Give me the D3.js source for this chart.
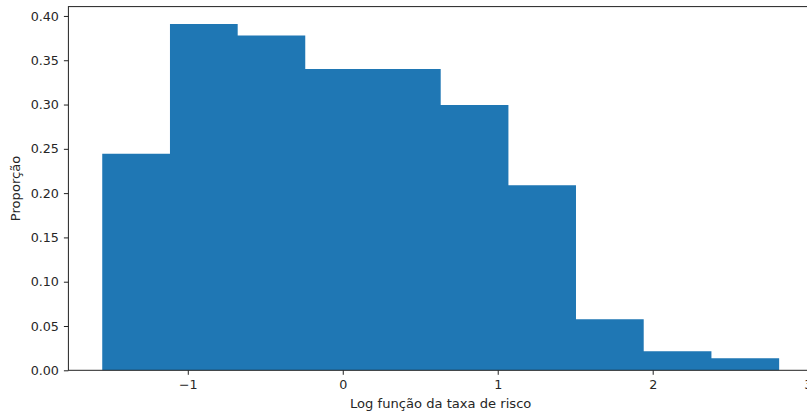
<!DOCTYPE html>
<html>
<head>
<meta charset="utf-8">
<script src="https://cdn.jsdelivr.net/npm/d3@7"></script>
<style>
  html, body { margin: 0; padding: 0; background: #fff; }
  svg { display: block; }
  text { font-family: "DejaVu Sans", sans-serif; fill: #262626; }
</style>
</head>
<body>
<svg id="chart" width="807" height="414"></svg>
<script>
// Histogram bins (log hazard-rate function) and the proportion in each bin
const binEdges = [-1.552, -1.115, -0.678, -0.242, 0.195, 0.632, 1.069, 1.505, 1.942, 2.379, 2.816];
const proportions = [0.2445, 0.391, 0.378, 0.340, 0.340, 0.2995, 0.2089, 0.0576, 0.0215, 0.0135];
const xTicks = [-1, 0, 1, 2, 3];
const yTicks = [0.00, 0.05, 0.10, 0.15, 0.20, 0.25, 0.30, 0.35, 0.40];
const xLabel = "Log função da taxa de risco";
const yLabel = "Proporção";

const svg = d3.select("#chart");
const margin = { left: 68.4, top: 6.6 };
const plotW = 744.6, plotH = 363.7;

// 5% padding around the data range, as in a default histogram plot
const span = binEdges[binEdges.length - 1] - binEdges[0];
const x = d3.scaleLinear()
  .domain([binEdges[0] - 0.05 * span, binEdges[binEdges.length - 1] + 0.05 * span])
  .range([0, plotW]);
const y = d3.scaleLinear()
  .domain([0, d3.max(proportions) * 1.05])
  .range([plotH, 0]);

const g = svg.append("g").attr("transform", `translate(${margin.left},${margin.top})`);

// Bars drawn as one outline path so adjacent bins show no seams
const bins = proportions.map((v, i) => ({ x0: binEdges[i], x1: binEdges[i + 1], v }));
const path = d3.path();
path.moveTo(x(bins[0].x0), y(0));
bins.forEach(d => {
  path.lineTo(x(d.x0), y(d.v));
  path.lineTo(x(d.x1), y(d.v));
});
path.lineTo(x(bins[bins.length - 1].x1), y(0));
path.closePath();
g.append("path")
  .datum(bins)
  .attr("d", path.toString())
  .attr("fill", "#1f77b4");

const fmtMinus = d => (d < 0 ? "\u2212" + Math.abs(d) : String(d));

const xAxis = g.append("g")
  .attr("transform", `translate(0,${plotH})`)
  .call(d3.axisBottom(x).tickValues(xTicks).tickFormat(fmtMinus).tickSize(4.5).tickPadding(5));
const yAxis = g.append("g")
  .call(d3.axisLeft(y).tickValues(yTicks).tickFormat(d3.format(".2f")).tickSize(4.5).tickPadding(5));

[xAxis, yAxis].forEach(a => {
  a.select(".domain").remove();
  a.selectAll(".tick line").attr("stroke", "#222").attr("stroke-width", 1);
  a.selectAll(".tick text").attr("font-size", "12.7px").attr("fill", "#262626")
    .style("font-family", "'DejaVu Sans', sans-serif");
});

// Frame around the plotting area
g.append("rect")
  .attr("x", 0).attr("y", 0)
  .attr("width", plotW).attr("height", plotH)
  .attr("fill", "none")
  .attr("stroke", "#222")
  .attr("stroke-width", 1);

svg.append("text")
  .attr("x", margin.left + plotW / 2)
  .attr("y", 407.5)
  .attr("text-anchor", "middle")
  .attr("font-size", "13.1px")
  .text(xLabel);

svg.append("text")
  .attr("transform", `translate(20,${margin.top + plotH / 2}) rotate(-90)`)
  .attr("text-anchor", "middle")
  .attr("font-size", "13.1px")
  .text(yLabel);
</script>
</body>
</html>
